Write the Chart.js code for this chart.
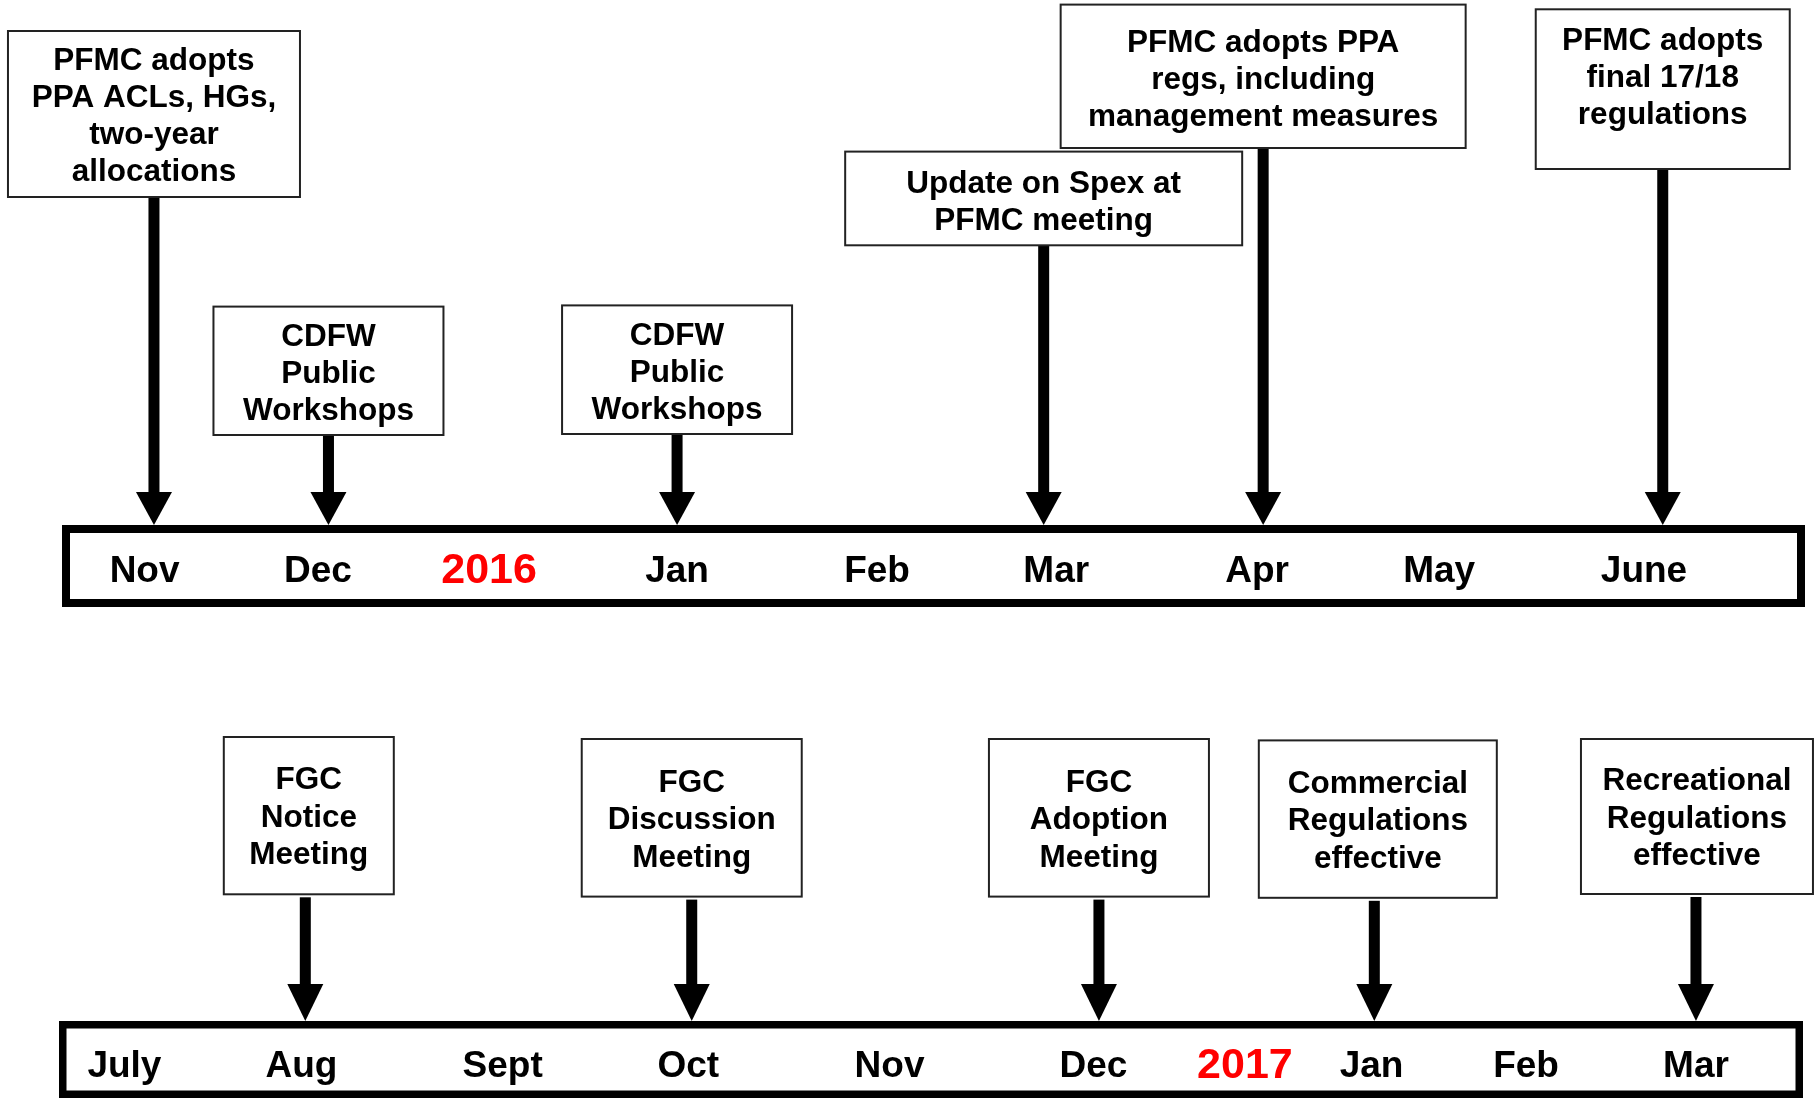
<!DOCTYPE html>
<html>
<head>
<meta charset="utf-8">
<script src="https://cdn.jsdelivr.net/npm/chart.js@4.4.0/dist/chart.umd.min.js"></script>
<style>
  html, body { margin: 0; padding: 0; background: #fff; }
  #wrap { position: relative; width: 1814px; height: 1099px; overflow: hidden; }
  canvas { position: absolute; left: 0; }
</style>
</head>
<body>
<div id="wrap">
  <canvas id="topChart" width="1814" height="640" style="top:0px"></canvas>
  <canvas id="bottomChart" width="1814" height="459" style="top:640px"></canvas>
</div>
<script>
// first timeline (Nov 2015 - June 2016)
var topMonths = ['Nov', 'Dec', '2016', 'Jan', 'Feb', 'Mar', 'Apr', 'May', 'June']
var topMonthPos = [0, 0.925, 1.838, 2.841, 3.908, 4.864, 5.936, 6.907, 8]
var topEvents = [
	'PFMC adopts\nPPA ACLs, HGs,\ntwo-year\nallocations',
	'CDFW\nPublic\nWorkshops',
	'CDFW\nPublic\nWorkshops',
	'Update on Spex at\nPFMC meeting',
	'PFMC adopts PPA\nregs, including\nmanagement measures',
	'PFMC adopts\nfinal 17/18\nregulations'
]
var topEventPos = [0.05, 0.981, 2.841, 4.797, 5.968, 8.10]

// second timeline (July 2016 - Mar 2017)
var bottomMonths = ['July', 'Aug', 'Sept', 'Oct', 'Nov', 'Dec', '2017', 'Jan', 'Feb', 'Mar']
var bottomMonthPos = [0, 1.014, 2.166, 3.229, 4.382, 5.549, 6.417, 7.142, 8.027, 9]
var bottomEvents = [
	'FGC\nNotice\nMeeting',
	'FGC\nDiscussion\nMeeting',
	'FGC\nAdoption\nMeeting',
	'Commercial\nRegulations\neffective',
	'Recreational\nRegulations\neffective'
]
var bottomEventPos = [1.036, 3.249, 5.581, 7.158, 9.0]

// box layout (top edge, height, width in px, shift of box / text)
var topBoxes = [
	{ top: 31, h: 166, w: 292, dx: 0, dy: 0 },
	{ top: 306.6, h: 128.4, w: 230, dx: 0, dy: 1 },
	{ top: 305.4, h: 128.6, w: 230, dx: 0, dy: 1 },
	{ top: 151.6, h: 93.7, w: 397, dx: 0, dy: 1.5 },
	{ top: 4.6, h: 143.4, w: 405, dx: 0, dy: 1 },
	{ top: 9.3, h: 159.7, w: 254, dx: 0, dy: -13 }
]
var bottomBoxes = [
	{ top: 97, h: 157.3, w: 170, dx: 3.5, dy: 0 },
	{ top: 99, h: 157.6, w: 220, dx: 0, dy: 0 },
	{ top: 99, h: 157.6, w: 220, dx: 0, dy: 0 },
	{ top: 100.4, h: 157.4, w: 238, dx: 3.5, dy: 0 },
	{ top: 99, h: 155, w: 232, dx: 1, dy: 0 }
]

var FONT = "'Liberation Sans', Arial, Helvetica, sans-serif"

var timelinePlugin = {
	id: 'timeline',
	afterDraw: function(chart, args, o) {
		var ctx = chart.ctx
		var area = chart.chartArea
		var xs = chart.scales.x
		var pts = chart.getDatasetMeta(0).data
		ctx.save()

		// the bar round the month labels
		var hl = o.barLine / 2
		ctx.lineWidth = o.barLine
		ctx.strokeStyle = '#000'
		ctx.strokeRect(area.left + hl, area.bottom + hl, area.right - area.left - 2 * hl, xs.bottom - area.bottom - 2 * hl)

		pts.forEach(function(p, i) {
			var b = o.boxes[i]
			var x = p.x
			var tip = p.y
			var y0 = b.top + b.h + o.gap

			// arrow
			ctx.fillStyle = '#000'
			ctx.fillRect(x - o.shaft / 2, y0, o.shaft, tip - o.headH - y0 + 1)
			ctx.beginPath()
			ctx.moveTo(x - o.headW / 2, tip - o.headH)
			ctx.lineTo(x + o.headW / 2, tip - o.headH)
			ctx.lineTo(x, tip)
			ctx.closePath()
			ctx.fill()

			// box
			var cx = x + b.dx
			var bx = cx - b.w / 2
			ctx.fillStyle = '#fff'
			ctx.fillRect(bx, b.top, b.w, b.h)
			ctx.lineWidth = 2
			ctx.strokeStyle = '#222'
			ctx.strokeRect(bx, b.top, b.w, b.h)

			// text
			var lines = o.texts[i].split('\n')
			var mid = b.top + b.h / 2 + b.dy
			ctx.fillStyle = '#000'
			ctx.font = 'bold ' + o.fontSize + 'px ' + FONT
			ctx.textAlign = 'center'
			ctx.textBaseline = 'alphabetic'
			lines.forEach(function(line, k) {
				var cy = mid + (k - (lines.length - 1) / 2) * o.lineH
				ctx.fillText(line, cx, cy + 0.36 * o.fontSize)
			})
		})
		ctx.restore()
	}
}

function makeTimeline(id, months, monthPos, events, eventPos, boxes, s) {
	var yearIdx = months.findIndex(function(m) { return /^\d{4}$/.test(m) })
	return new Chart(document.getElementById(id).getContext('2d'), {
		type: 'scatter',
		data: {
			datasets: [{
				data: eventPos.map(function(v) { return { x: v, y: 0 } }),
				pointRadius: 0,
				pointHoverRadius: 0,
				showLine: false
			}]
		},
		options: {
			responsive: false,
			animation: false,
			events: [],
			layout: { padding: { left: s.left, right: s.right, top: 0, bottom: s.bottom } },
			plugins: {
				legend: { display: false },
				tooltip: { enabled: false },
				timeline: {
					boxes: boxes, texts: events, barLine: s.barLine, gap: s.gap,
					shaft: 11, headW: 36, headH: s.headH, fontSize: 31.5, lineH: s.lineH
				}
			},
			scales: {
				x: {
					type: 'linear',
					min: s.min,
					max: s.max,
					grid: { display: false, drawTicks: false },
					border: { display: false },
					afterBuildTicks: function(axis) {
						axis.ticks = monthPos.map(function(v) { return { value: v } })
					},
					afterFit: function(axis) { axis.height = s.axisH },
					ticks: {
						autoSkip: false,
						maxRotation: 0,
						minRotation: 0,
						padding: s.tickPad,
						callback: function(value, index) { return months[index] },
						color: function(c) { return c.index === yearIdx ? '#ff0000' : '#000' },
						font: function(c) {
							return c.index === yearIdx
								? { family: FONT, size: 43, weight: 'bold', lineHeight: 1.0 }
								: { family: FONT, size: 37, weight: 'bold', lineHeight: 1.2 }
						}
					}
				},
				y: { display: false, min: 0, max: 1 }
			}
		},
		plugins: [timelinePlugin]
	})
}

makeTimeline('topChart', topMonths, topMonthPos, topEvents, topEventPos, topBoxes, {
	left: 62, right: 9, bottom: 33, axisH: 82, min: -0.4407, max: 8.859,
	barLine: 8, gap: 0, headH: 33, lineH: 37, tickPad: 25
})

makeTimeline('bottomChart', bottomMonths, bottomMonthPos, bottomEvents, bottomEventPos, bottomBoxes, {
	left: 59, right: 11, bottom: 1, axisH: 77, min: -0.3745, max: 9.613,
	barLine: 7.5, gap: 3, headH: 37, lineH: 37.5, tickPad: 24
})
</script>
</body>
</html>
